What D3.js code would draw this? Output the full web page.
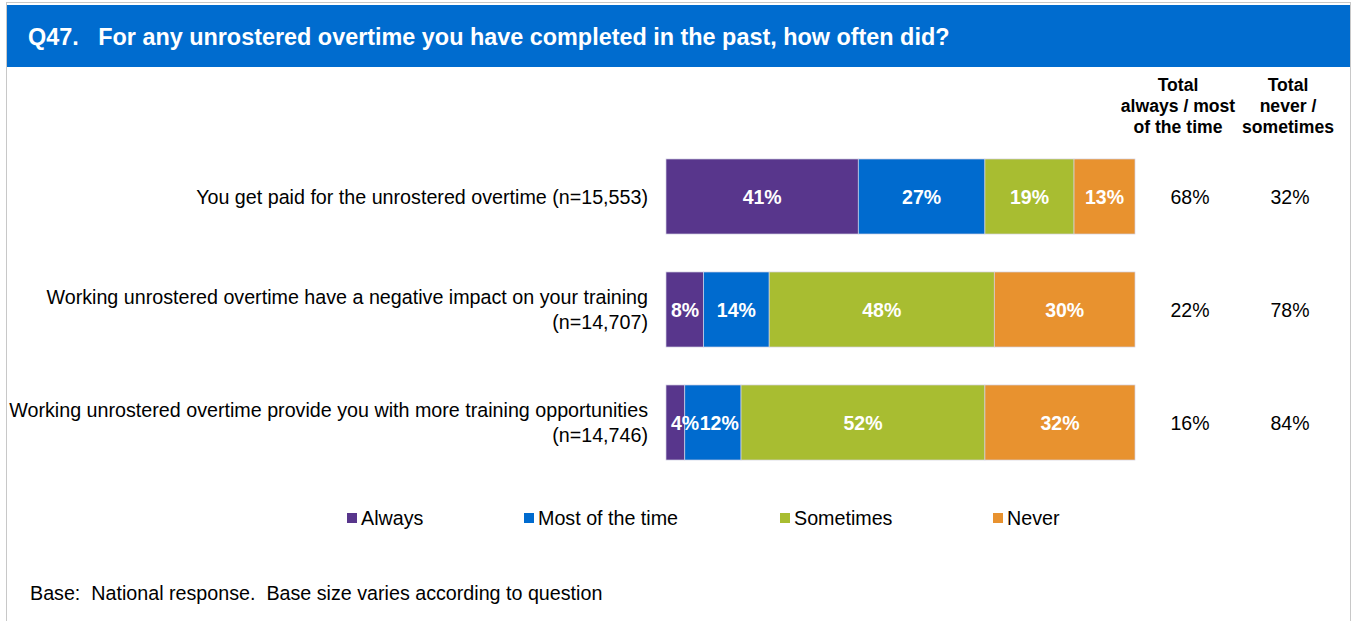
<!DOCTYPE html>
<html>
<head>
<meta charset="utf-8">
<script src="https://cdn.jsdelivr.net/npm/d3@7"></script>
<style>
  html, body { margin: 0; padding: 0; background: #fff; }
  svg { display: block; font-family: "Liberation Sans", Arial, sans-serif; }
</style>
</head>
<body>
<svg id="chart" width="1353" height="621"></svg>
<script>
// Survey items, each label split into display lines
const questions = [
  ["You get paid for the unrostered overtime (n=15,553)"],
  ["Working unrostered overtime have a negative impact on your training", "(n=14,707)"],
  ["Working unrostered overtime provide you with more training opportunities", "(n=14,746)"]
];
const responses = ["Always", "Most of the time", "Sometimes", "Never"];
const colors = ["#58368c", "#006bcf", "#a8bd31", "#e8922f"];

// Share of respondents (%) per response, one array per item
const always    = [41, 8, 4];
const mostTime  = [27, 14, 12];
const sometimes = [19, 48, 52];
const never     = [13, 30, 32];

const totalAlwaysMost     = [68, 22, 16];
const totalNeverSometimes = [32, 78, 84];

// Double spaces kept as non-breaking so they survive rendering
const title = "Q47.\u00a0\u00a0 For any unrostered overtime you have completed in the past, how often did?";
const footnote = "Base:\u00a0 National response.\u00a0 Base size varies according to question";

const svg = d3.select("#chart");

// Frame and header band
svg.append("rect").attr("x", 6.5).attr("y", 2.5).attr("width", 1344).attr("height", 640)
  .attr("fill", "#fff").attr("stroke", "#c8c8c8").attr("stroke-width", 1);
svg.append("rect").attr("x", 7).attr("y", 5).attr("width", 1343).attr("height", 62)
  .attr("fill", "#006ccf");
svg.append("text").attr("x", 28).attr("y", 44.5)
  .attr("fill", "#fff").attr("font-weight", "bold").attr("font-size", 23.4)
  .text(title);

// Layout
const x = d3.scaleLinear().domain([0, 100]).range([666, 1135]);
const y = d3.scaleBand().domain(d3.range(questions.length)).range([140, 479])
  .paddingInner(0.336).paddingOuter(0.168);

const rows = questions.map((q, i) => {
  const vals = [always[i], mostTime[i], sometimes[i], never[i]];
  let acc = 0;
  return vals.map((v, k) => { const seg = { row: i, k, v, x0: acc, x1: acc + v }; acc += v; return seg; });
});
const segs = rows.flat();

// Stacked bars first, then every value label on top
const g = svg.append("g");
g.selectAll("rect").data(segs).enter().append("rect")
  .attr("x", d => x(d.x0)).attr("width", d => x(d.x1) - x(d.x0))
  .attr("y", d => y(d.row)).attr("height", y.bandwidth())
  .attr("fill", d => colors[d.k])
  .attr("stroke", "#d4d2e4").attr("stroke-width", 0.7);
const labels = g.selectAll("text").data(segs).enter().append("text")
  .attr("y", d => y(d.row) + y.bandwidth() / 2 + 7)
  .attr("text-anchor", "start").attr("fill", "#fff")
  .attr("font-weight", "bold").attr("font-size", 19.5)
  .text(d => d.v + "%");
// Centre each label in its segment; keep it inside the bar's left edge
// and push it right when it would run into the previous label of the row
const rightEdge = {};
labels.attr("x", function(d) {
  const w = this.getComputedTextLength();
  let left = (x(d.x0) + x(d.x1)) / 2 - w / 2;
  left = Math.max(left, x(0) + 5);
  if (d.k > 0 && rightEdge[d.row] !== undefined) left = Math.max(left, rightEdge[d.row] + 0.5);
  rightEdge[d.row] = left + w;
  return left;
});

// Category labels
questions.forEach((lines, i) => {
  const cy = y(i) + y.bandwidth() / 2;
  const lh = 25;
  const t = svg.append("text").attr("text-anchor", "end").attr("font-size", 19.7).attr("fill", "#000");
  lines.forEach((ln, j) => {
    t.append("tspan").attr("x", 648)
      .attr("y", cy + 7 + (j - (lines.length - 1) / 2) * lh)
      .text(ln);
  });
});

// Summary columns
const colX = [1190, 1290];
const colHeads = [["Total", "always / most", "of the time"], ["Total", "never /", "sometimes"]];
const colHeadX = [1178, 1288];
colHeads.forEach((lines, c) => {
  const t = svg.append("text").attr("text-anchor", "middle").attr("font-weight", "bold")
    .attr("font-size", 17.6).attr("fill", "#000");
  lines.forEach((ln, j) => t.append("tspan").attr("x", colHeadX[c]).attr("y", 91 + j * 21).text(ln));
});
[totalAlwaysMost, totalNeverSometimes].forEach((arr, c) => {
  svg.selectAll(null).data(arr).enter().append("text")
    .attr("x", colX[c]).attr("y", (d, i) => y(i) + y.bandwidth() / 2 + 7)
    .attr("text-anchor", "middle").attr("font-size", 19.5).attr("fill", "#000")
    .text(d => d + "%");
});

// Legend
const legX = [347, 524, 780, 993];
const leg = svg.append("g").selectAll("g").data(responses).enter().append("g")
  .attr("transform", (d, i) => `translate(${legX[i]},518)`);
leg.append("rect").attr("x", 0).attr("y", -5).attr("width", 10).attr("height", 10)
  .attr("fill", (d, i) => colors[i]);
leg.append("text").attr("x", 14).attr("y", 7).attr("font-size", 19.7).attr("fill", "#000").text(d => d);

// Footnote
svg.append("text").attr("x", 30).attr("y", 600).attr("font-size", 19.7).attr("fill", "#000")
  .text(footnote);
</script>
</body>
</html>
